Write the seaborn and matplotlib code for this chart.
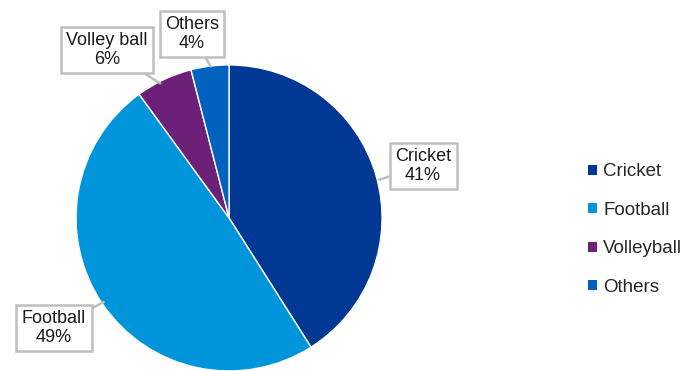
import matplotlib.pyplot as plt
import seaborn as sns
from matplotlib.patches import Patch

# data
sports = ["Cricket", "Football", "Volleyball", "Others"]
callout_names = ["Cricket", "Football", "Volley ball", "Others"]
shares = [41, 49, 6, 4]
colors = ["#003893", "#0095DA", "#6C2077", "#0061BF"]

sns.set_theme(style="white")
plt.rcParams['font.family'] = ['Liberation Sans', 'DejaVu Sans']

fig = plt.figure(figsize=(6.93, 3.71), dpi=100)
ax = fig.add_axes([0.1097, 0.0, 0.4416, 0.825])

wedges, _ = ax.pie(shares, colors=colors, startangle=90, counterclock=False,
                   radius=1, wedgeprops=dict(edgecolor="white", linewidth=1))
ax.set_xlim(-1, 1)
ax.set_ylim(-1, 1)
ax.set_aspect("equal")
ax.axis("off")

# callout boxes: text centre and pointer tip
label_pos = [(1.268, 0.34), (-1.144, -0.719), (-0.797, 1.098), (-0.242, 1.203)]
tip_pos = [(0.98, 0.25), (-0.82, -0.55), (-0.45, 0.88), (-0.12, 0.99)]

for name, val, lp, tp in zip(callout_names, shares, label_pos, tip_pos):
    ax.annotate(f"{name}\n{val}%", xy=tp, xytext=lp, ha="center", va="center",
                fontsize=13, color="#1a1a1a", linespacing=1.1,
                annotation_clip=False,
                bbox=dict(boxstyle="square,pad=0.3", fc="white", ec="#BFBFBF", lw=1.8),
                arrowprops=dict(arrowstyle="-", color="#BFBFBF", lw=1.8,
                                shrinkA=0, shrinkB=0))

handles = [Patch(facecolor=c, edgecolor="none") for c in colors]
fig.legend(handles, sports, loc="center left", bbox_to_anchor=(0.838, 0.381),
           frameon=False, fontsize=13.5, handlelength=0.45, handleheight=0.45,
           handletextpad=0.35, labelspacing=1.15, borderaxespad=0)

fig.savefig("out.png", dpi=100)
